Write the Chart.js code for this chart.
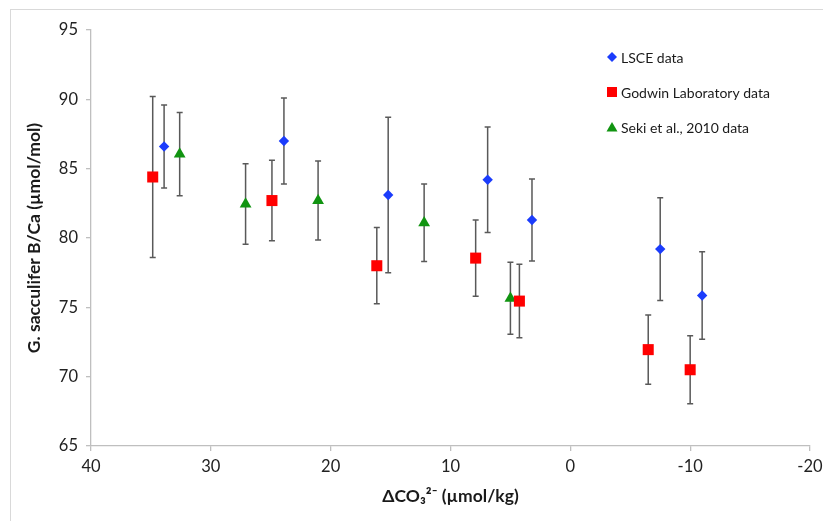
<!DOCTYPE html>
<html>
<head>
<meta charset="utf-8">
<script src="https://cdn.jsdelivr.net/npm/chart.js@4.4.1/dist/chart.umd.min.js"></script>
<style>
  html, body { margin: 0; padding: 0; background: #fff; }
  #wrap { position: relative; width: 823px; height: 521px; overflow: hidden; }
  #frame { position: absolute; left: 10px; top: 9px; width: 840px; height: 540px; border: 1px solid #d9d9d9; box-sizing: border-box; }
  canvas { position: absolute; left: 0; top: 0; }
</style>
</head>
<body>
<div id="wrap">
  <div id="frame"></div>
  <canvas id="myChart" width="823" height="521"></canvas>
</div>
<script>
// delta CO3 2- (x), B/Ca (y), error bar half-length
let lsceX = [33.9, 23.9, 15.2, 6.9, 3.2, -7.5, -11.0];
let lsceY = [86.6, 87.0, 83.1, 84.2, 81.3, 79.2, 75.85];
let lsceErr = [3.0, 3.1, 5.6, 3.8, 2.95, 3.7, 3.15];

let godwinX = [34.85, 24.9, 16.15, 7.9, 4.25, -6.5, -10.0];
let godwinY = [84.4, 82.7, 78.0, 78.55, 75.45, 71.95, 70.5];
let godwinErr = [5.8, 2.9, 2.75, 2.75, 2.65, 2.5, 2.45];

let sekiX = [32.6, 27.1, 21.05, 12.2, 5.0];
let sekiY = [86.05, 82.45, 82.7, 81.1, 75.65];
let sekiErr = [3.0, 2.9, 2.85, 2.8, 2.6];

let labels = ["LSCE data", "Godwin Laboratory data", "Seki et al., 2010 data"];
let colors = ["#1b3cfc", "#ff0000", "#119411"];
let pointStyles = ["rectRot", "rect", "triangle"];
let pointRadii = [5.2, 7.8, 6.8];

function toPoints(xs, ys, errs) {
  return xs.map((x, i) => ({ x: x, y: ys[i], err: errs[i] }));
}

let series = [
  toPoints(lsceX, lsceY, lsceErr),
  toPoints(godwinX, godwinY, godwinErr),
  toPoints(sekiX, sekiY, sekiErr),
];

const FONT = "Lato, 'DejaVu Sans', sans-serif";

// error bars under the markers
const errorBars = {
  id: "errorBars",
  beforeDatasetsDraw(chart) {
    const ctx = chart.ctx;
    const xs = chart.scales.x, ys = chart.scales.y;
    ctx.save();
    ctx.strokeStyle = "#595959";
    ctx.lineWidth = 1.5;
    chart.data.datasets.forEach((ds) => {
      ds.data.forEach((p) => {
        const px = xs.getPixelForValue(p.x);
        const top = ys.getPixelForValue(p.y + p.err);
        const bot = ys.getPixelForValue(p.y - p.err);
        ctx.beginPath();
        ctx.moveTo(px, top);
        ctx.lineTo(px, bot);
        ctx.moveTo(px - 3, top);
        ctx.lineTo(px + 3, top);
        ctx.moveTo(px - 3, bot);
        ctx.lineTo(px + 3, bot);
        ctx.stroke();
      });
    });
    ctx.restore();
  },
};

// legend inside the plot, top right
const insideLegend = {
  id: "insideLegend",
  afterDraw(chart) {
    const ctx = chart.ctx;
    ctx.save();
    ctx.font = "14px " + FONT;
    ctx.textBaseline = "middle";
    chart.data.datasets.forEach((ds, i) => {
      const mx = 612, my = 57 + i * 35;
      ctx.fillStyle = ds.backgroundColor;
      ctx.beginPath();
      if (ds.pointStyle === "rectRot") {
        ctx.moveTo(mx, my - 5); ctx.lineTo(mx + 5, my);
        ctx.lineTo(mx, my + 5); ctx.lineTo(mx - 5, my);
      } else if (ds.pointStyle === "rect") {
        ctx.rect(mx - 5, my - 5, 10, 10);
      } else {
        ctx.moveTo(mx, my - 5); ctx.lineTo(mx + 5.5, my + 4.5); ctx.lineTo(mx - 5.5, my + 4.5);
      }
      ctx.closePath();
      ctx.fill();
      ctx.fillStyle = "#1a1a1a";
      ctx.fillText(ds.label, 621, my + 1);
    });
    ctx.restore();
  },
};

const ctx = document.getElementById("myChart").getContext("2d");
const myChart = new Chart(ctx, {
  type: "scatter",
  data: {
    datasets: series.map((data, i) => ({
      label: labels[i],
      data: data,
      backgroundColor: colors[i],
      borderColor: colors[i],
      borderWidth: 0,
      pointStyle: pointStyles[i],
      pointRadius: pointRadii[i],
    })),
  },
  options: {
    responsive: false,
    animation: false,
    layout: { padding: { left: 0, top: 30, right: 0, bottom: 0 } },
    plugins: {
      legend: { display: false },
      tooltip: { enabled: false },
    },
    scales: {
      x: {
        type: "linear",
        reverse: true,
        min: -20,
        max: 40,
        afterFit(scale) {
          scale.height = 75;
          scale.paddingRight = 13;
          scale.paddingLeft = 0;
        },
        ticks: { stepSize: 10, color: "#222", padding: 6, font: { family: FONT, size: 16.5 } },
        grid: { drawOnChartArea: false, drawTicks: true, tickLength: 5, color: "#bfbfbf", lineWidth: 1.3 },
        border: { color: "#bfbfbf", width: 1.3 },
        title: {
          display: true,
          text: "ΔCO₃²⁻ (µmol/kg)",
          color: "#1a1a1a",
          font: { family: FONT, size: 17.5, weight: "bold" },
          padding: { top: 0, bottom: 14 },
        },
      },
      y: {
        type: "linear",
        min: 65,
        max: 95,
        afterFit(scale) { scale.width = 91; },
        ticks: { stepSize: 5, color: "#222", padding: 8, font: { family: FONT, size: 16.5 } },
        grid: { drawOnChartArea: false, drawTicks: true, tickLength: 5, color: "#bfbfbf", lineWidth: 1.3 },
        border: { color: "#bfbfbf", width: 1.3 },
        title: {
          display: true,
          text: "G. sacculifer B/Ca (µmol/mol)",
          color: "#1a1a1a",
          font: { family: FONT, size: 17.5, weight: "bold" },
          padding: { top: 24, bottom: 0 },
        },
      },
    },
  },
  plugins: [errorBars, insideLegend],
});
</script>
</body>
</html>
